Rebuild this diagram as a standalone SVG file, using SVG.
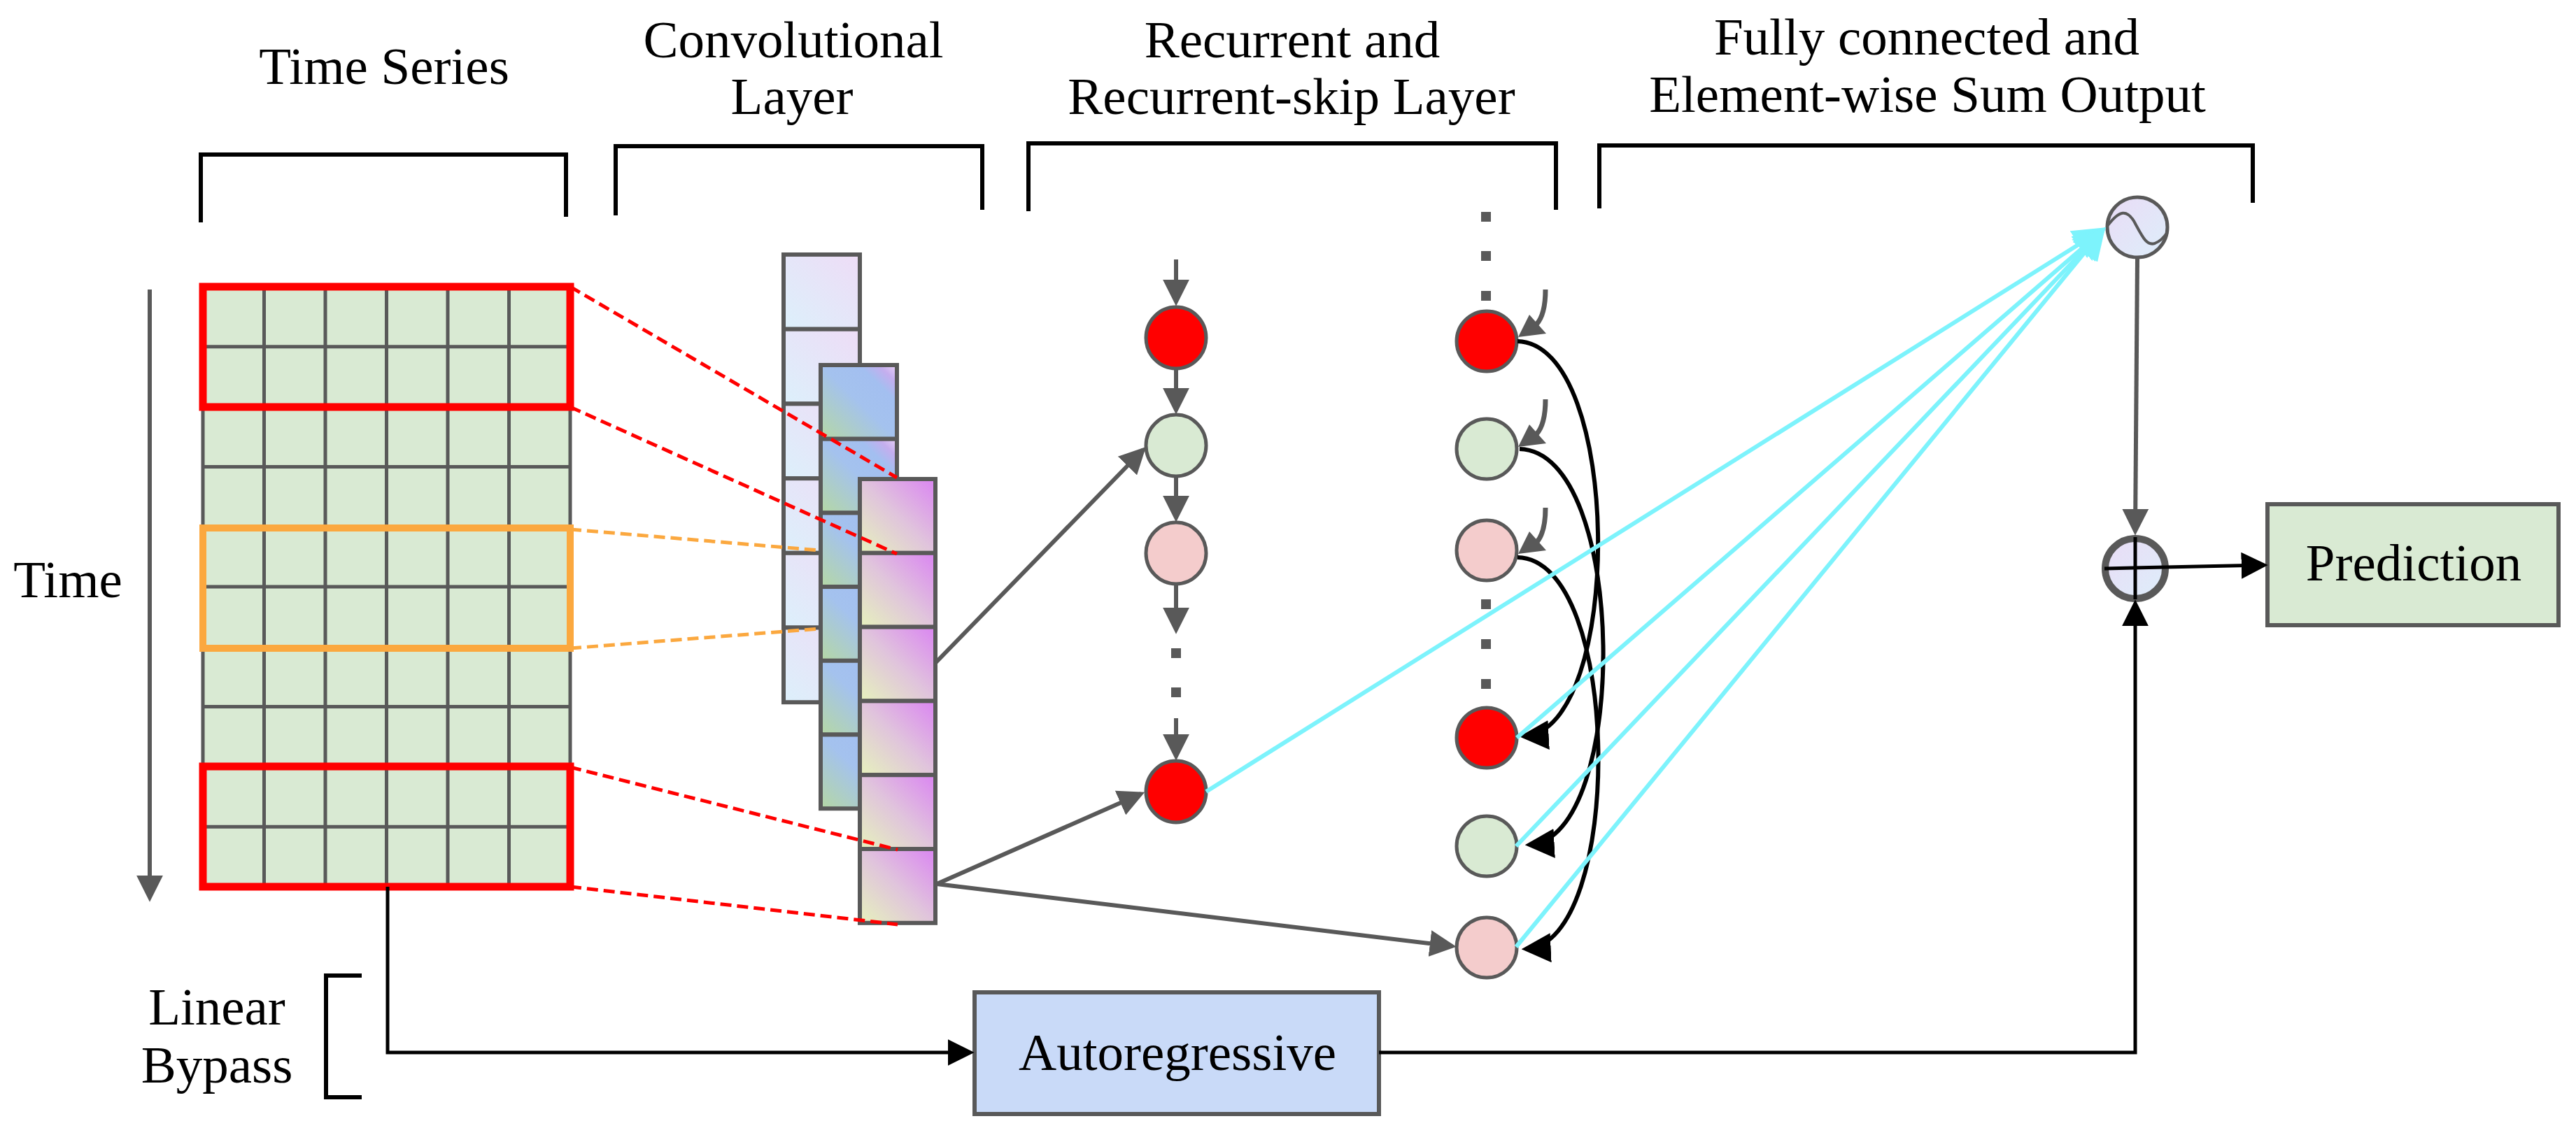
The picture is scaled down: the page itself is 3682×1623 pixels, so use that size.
<svg xmlns="http://www.w3.org/2000/svg" width="3682" height="1623" viewBox="0 0 3682 1623">
<style>
text{font-family:"Liberation Serif","Times New Roman",serif;font-size:75px;fill:#000;text-anchor:middle}
.br{fill:none;stroke:#000;stroke-width:6}
.cellg{fill:#D9EAD3}
.gl{stroke:#595959;stroke-width:5}
.nd{stroke:#595959;stroke-width:5}
.dot{fill:#595959}
.ga{fill:none;stroke:#595959;stroke-width:6;marker-end:url(#ag)}
.ba{fill:none;stroke:#000;stroke-width:5;marker-end:url(#ab)}
.bs{fill:none;stroke:#000;stroke-width:6;marker-end:url(#ab2)}
.ca{fill:none;stroke:#7DF3FC;stroke-width:6;marker-end:url(#ac)}
.rd{fill:none;stroke:#FF0000;stroke-width:5;stroke-dasharray:16 8}
.od{fill:none;stroke:#FBA83F;stroke-width:5;stroke-dasharray:16 8}
.c1{fill:url(#g1);stroke:#595959;stroke-width:6}
.c2{fill:url(#g2);stroke:#595959;stroke-width:6}
.c3{fill:url(#g3);stroke:#595959;stroke-width:6}
</style>
<defs>
<marker id="ag" viewBox="0 0 10 10" refX="8.5" refY="5" markerWidth="38" markerHeight="38" orient="auto" markerUnits="userSpaceOnUse"><path d="M0,0L10,5L0,10z" fill="#595959"/></marker>
<marker id="ab" viewBox="0 0 10 10" refX="8.5" refY="5" markerWidth="38" markerHeight="38" orient="auto" markerUnits="userSpaceOnUse"><path d="M0,0L10,5L0,10z" fill="#000"/></marker>
<marker id="ab2" viewBox="0 0 10 10" refX="8.5" refY="5" markerWidth="42" markerHeight="42" orient="auto" markerUnits="userSpaceOnUse"><path d="M0,0L10,5L0,10z" fill="#000"/></marker>
<marker id="ac" viewBox="0 0 10 10" refX="8.5" refY="5" markerWidth="46" markerHeight="46" orient="auto" markerUnits="userSpaceOnUse"><path d="M0,0L10,5L0,10z" fill="#7DF3FC"/></marker>
<linearGradient id="g1" x1="0" y1="1" x2="1" y2="0"><stop offset="0" stop-color="#DCF0FB"/><stop offset="1" stop-color="#EEDCF6"/></linearGradient>
<linearGradient id="g2" x1="0" y1="1" x2="1" y2="0"><stop offset="0" stop-color="#B5D8A3"/><stop offset="0.5" stop-color="#A4C2EE"/><stop offset="0.75" stop-color="#A3BFF0"/><stop offset="0.88" stop-color="#C4AEEE"/><stop offset="1" stop-color="#EBD2F6"/></linearGradient>
<linearGradient id="g3" x1="0" y1="1" x2="1" y2="0"><stop offset="0" stop-color="#E6F2BC"/><stop offset="0.5" stop-color="#E0C4DC"/><stop offset="1" stop-color="#DA84F2"/></linearGradient>
<linearGradient id="lav" x1="0" y1="0" x2="1" y2="1"><stop offset="0" stop-color="#EADCF6"/><stop offset="1" stop-color="#DDEEFA"/></linearGradient>
</defs>
<rect width="3682" height="1623" fill="#fff"/>

<g id="titles">
<text x="549" y="120">Time Series</text>
<text x="1134" y="82">Convolutional</text>
<text x="1132" y="163">Layer</text>
<text x="1847" y="82">Recurrent and</text>
<text x="1846" y="163">Recurrent-skip Layer</text>
<text x="2754" y="78">Fully connected and</text>
<text x="2755" y="160">Element-wise Sum Output</text>
<path class="br" d="M287,318V221H809V310"/>
<path class="br" d="M880,308V209H1404V300"/>
<path class="br" d="M1470,302V205H2224V300"/>
<path class="br" d="M2286,298V208H3220V290"/>
</g>

<g id="time-axis">
<line x1="214" y1="414" x2="214" y2="1284" class="ga"/>
<text x="97" y="854">Time</text>
</g>

<g id="time-series">
<rect class="cellg" x="290" y="410" width="525" height="858"/>
<g class="gl">
<line x1="377.5" y1="410" x2="377.5" y2="1268"/><line x1="465" y1="410" x2="465" y2="1268"/><line x1="552.5" y1="410" x2="552.5" y2="1268"/><line x1="640" y1="410" x2="640" y2="1268"/><line x1="727.5" y1="410" x2="727.5" y2="1268"/>
<line x1="290" y1="410" x2="290" y2="1268"/><line x1="815" y1="410" x2="815" y2="1268"/>
<line x1="290" y1="495.8" x2="815" y2="495.8"/><line x1="290" y1="581.6" x2="815" y2="581.6"/><line x1="290" y1="667.4" x2="815" y2="667.4"/><line x1="290" y1="753.2" x2="815" y2="753.2"/><line x1="290" y1="839" x2="815" y2="839"/><line x1="290" y1="924.8" x2="815" y2="924.8"/><line x1="290" y1="1010.6" x2="815" y2="1010.6"/><line x1="290" y1="1096.4" x2="815" y2="1096.4"/><line x1="290" y1="1182.2" x2="815" y2="1182.2"/>
</g>
<rect x="290" y="410" width="525" height="172" fill="none" stroke="#FF0000" stroke-width="11"/>
<rect x="290" y="755" width="525" height="172" fill="none" stroke="#FBA83F" stroke-width="10"/>
<rect x="290" y="1096" width="525" height="172" fill="none" stroke="#FF0000" stroke-width="11"/>
</g>

<g id="conv-back">
<rect class="c1" x="1120" y="364" width="109" height="106.7"/><rect class="c1" x="1120" y="470.7" width="109" height="106.7"/><rect class="c1" x="1120" y="577.4" width="109" height="106.7"/><rect class="c1" x="1120" y="684.1" width="109" height="106.7"/><rect class="c1" x="1120" y="790.8" width="109" height="106.7"/><rect class="c1" x="1120" y="897.5" width="109" height="106.7"/>
</g>
<g id="conv-middle">
<rect class="c2" x="1173" y="522" width="109" height="105.7"/><rect class="c2" x="1173" y="627.7" width="109" height="105.7"/><rect class="c2" x="1173" y="733.4" width="109" height="105.7"/><rect class="c2" x="1173" y="839.1" width="109" height="105.7"/><rect class="c2" x="1173" y="944.8" width="109" height="105.7"/><rect class="c2" x="1173" y="1050.5" width="109" height="105.7"/>
</g>
<g id="conv-front">
<rect class="c3" x="1229" y="685" width="108" height="105.8"/><rect class="c3" x="1229" y="790.8" width="108" height="105.8"/><rect class="c3" x="1229" y="896.6" width="108" height="105.8"/><rect class="c3" x="1229" y="1002.4" width="108" height="105.8"/><rect class="c3" x="1229" y="1108.2" width="108" height="105.8"/><rect class="c3" x="1229" y="1214" width="108" height="105.8"/>
</g>

<g id="receptive-lines">
<line class="rd" x1="815" y1="410" x2="1282" y2="683"/>
<line class="rd" x1="815" y1="582" x2="1282" y2="792"/>
<line class="od" x1="815" y1="757" x2="1172" y2="787"/>
<line class="od" x1="815" y1="927" x2="1172" y2="899"/>
<line class="rd" x1="815" y1="1097" x2="1283" y2="1215"/>
<line class="rd" x1="815" y1="1268" x2="1283" y2="1322"/>
</g>

<g id="recurrent">
<ellipse class="nd" cx="1681" cy="483" rx="43" ry="44" fill="#FF0000"/>
<ellipse class="nd" cx="1681" cy="637" rx="43" ry="44" fill="#D9EAD3"/>
<ellipse class="nd" cx="1681" cy="791" rx="43" ry="44" fill="#F4CCCC"/>
<rect class="dot" x="1674" y="927" width="14" height="14"/>
<rect class="dot" x="1674" y="983" width="14" height="14"/>
<ellipse class="nd" cx="1681" cy="1132" rx="43" ry="44" fill="#FF0000"/>
</g>

<g id="recurrent-skip">
<rect class="dot" x="2117" y="303" width="14" height="14"/>
<rect class="dot" x="2117" y="359" width="14" height="14"/>
<rect class="dot" x="2117" y="416" width="14" height="14"/>
<ellipse class="nd" cx="2125" cy="488" rx="43" ry="43" fill="#FF0000"/>
<ellipse class="nd" cx="2125" cy="642" rx="43" ry="43" fill="#D9EAD3"/>
<ellipse class="nd" cx="2125" cy="787" rx="43" ry="43" fill="#F4CCCC"/>
<rect class="dot" x="2117" y="857" width="14" height="14"/>
<rect class="dot" x="2117" y="914" width="14" height="14"/>
<rect class="dot" x="2117" y="971" width="14" height="14"/>
<ellipse class="nd" cx="2125" cy="1055" rx="43" ry="43" fill="#FF0000"/>
<ellipse class="nd" cx="2125" cy="1210" rx="43" ry="43" fill="#D9EAD3"/>
<ellipse class="nd" cx="2125" cy="1355" rx="43" ry="43" fill="#F4CCCC"/>
</g>

<g id="sigmoid">
<circle cx="3055" cy="325" r="43" fill="url(#lav)" stroke="#595959" stroke-width="5"/>
<path d="M3013,322C3030,300 3040,300 3050,316C3062,338 3068,352 3080,348C3088,345 3094,338 3098,332" fill="none" stroke="#595959" stroke-width="4"/>
</g>

<g id="sum">
<circle cx="3052" cy="813" r="43" fill="url(#lav)" stroke="#595959" stroke-width="10"/>
<line x1="3052" y1="768" x2="3052" y2="857" stroke="#000" stroke-width="5"/>
</g>

<g id="prediction">
<rect x="3241" y="721" width="416" height="173" fill="#D9EAD3" stroke="#595959" stroke-width="6"/>
<text x="3450" y="830">Prediction</text>
</g>

<g id="autoregressive">
<rect x="1393" y="1419" width="578" height="174" fill="#C9DAF8" stroke="#595959" stroke-width="6"/>
<text x="1683" y="1530">Autoregressive</text>
</g>

<g id="linear-bypass">
<path class="br" d="M517,1395H466V1569H517"/>
<text x="310" y="1465">Linear</text>
<text x="310" y="1548">Bypass</text>
</g>

<g id="connectors">
<line class="ga" x1="1681" y1="371" x2="1681" y2="432"/>
<line class="ga" x1="1681" y1="528" x2="1681" y2="587"/>
<line class="ga" x1="1681" y1="682" x2="1681" y2="741"/>
<line class="ga" x1="1681" y1="836" x2="1681" y2="901"/>
<line class="ga" x1="1681" y1="1027" x2="1681" y2="1082"/>
<line class="ga" x1="1337" y1="948" x2="1634" y2="643"/>
<line class="ga" x1="1339" y1="1264" x2="1631" y2="1135"/>
<line class="ga" x1="1339" y1="1264" x2="2076" y2="1353"/>
<g fill="#595959">
<path d="M2209,414Q2209,450 2196,464" fill="none" stroke="#595959" stroke-width="7"/>
<polygon points="2170,482 2186,450 2210,477"/>
<path d="M2209,571Q2209,607 2196,621" fill="none" stroke="#595959" stroke-width="7"/>
<polygon points="2170,639 2186,607 2210,634"/>
<path d="M2209,726Q2209,762 2196,776" fill="none" stroke="#595959" stroke-width="7"/>
<polygon points="2170,792 2186,760 2210,787"/>
</g>
<path class="bs" d="M2169,488C2320,492 2322,1045 2178,1053"/>
<path class="bs" d="M2172,642C2328,646 2330,1200 2186,1208"/>
<path class="bs" d="M2169,797C2320,800 2322,1350 2181,1357"/>
<line class="ca" x1="1724" y1="1132" x2="3004" y2="329"/>
<line class="ca" x1="2168" y1="1055" x2="3005" y2="330"/>
<line class="ca" x1="2167" y1="1210" x2="3005" y2="330"/>
<line class="ca" x1="2167" y1="1354" x2="3005" y2="330"/>
<line class="ga" x1="3055" y1="370" x2="3052" y2="760"/>
<path class="ba" d="M554,1268V1505H1387"/>
<path class="ba" d="M1971,1505H3052V863"/>
<path class="ba" d="M3008,813L3236,808"/>
</g>
</svg>
